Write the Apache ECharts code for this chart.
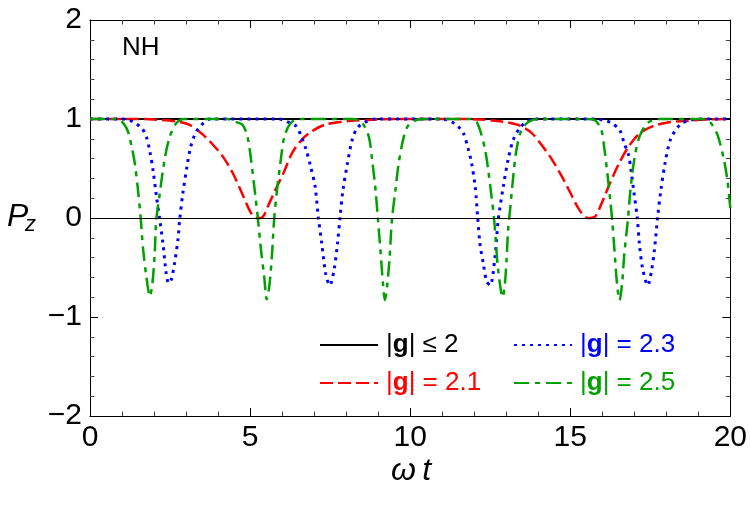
<!DOCTYPE html>
<html>
<head>
<meta charset="utf-8">
<script src="https://cdn.jsdelivr.net/npm/echarts@6/dist/echarts.min.js"></script>
<style>
  html, body { margin: 0; padding: 0; background: #fff; }
  #main { width: 750px; height: 515px; }
</style>
</head>
<body>
<div id="main"></div>
<script>
// 数据（从图上读出来的点）
var blackX = [0, 20];
var blackY = [1, 1];

var redX = [0, 1.5, 2.2, 2.8, 3.11, 3.5, 3.84, 4.15, 4.45, 4.72, 4.98, 5.1, 5.22, 5.39, 5.6, 5.8, 6.05, 6.32, 6.64, 6.95, 7.36, 8.09, 8.7, 9.5,
  10.4, 11.5, 12.2, 12.75, 13.37, 13.79, 14.1, 14.41, 14.72, 14.98, 15.29, 15.55, 15.76, 15.97, 16.2, 16.49, 16.8, 17.15, 17.6, 18.04, 18.56, 19.3, 20];
var redY = [1, 1, 0.99, 0.97, 0.94, 0.85, 0.74, 0.62, 0.46, 0.27, 0.08, 0.02, 0, 0.01, 0.15, 0.29, 0.46, 0.66, 0.8, 0.88, 0.945, 0.98, 0.99, 1,
  1, 1, 0.995, 0.98, 0.94, 0.86, 0.74, 0.6, 0.43, 0.27, 0.08, 0, 0.01, 0.14, 0.32, 0.53, 0.71, 0.85, 0.93, 0.965, 0.98, 0.995, 1];

var blueX = [0, 1.0, 1.2, 1.35, 1.61, 1.76, 1.87, 1.97, 2.07, 2.18, 2.28, 2.38, 2.46, 2.54, 2.64, 2.75, 2.8, 2.9, 3.03, 3.13, 3.27, 3.4, 3.55, 3.75,
  5.9, 6.17, 6.43, 6.58, 6.74, 6.89, 7.03, 7.13, 7.24, 7.36, 7.49, 7.62, 7.73, 7.81, 7.9, 8.04, 8.19, 8.35, 8.61, 8.9,
  11.0, 11.3, 11.51, 11.66, 11.82, 11.92, 12.03, 12.11, 12.18, 12.29, 12.39, 12.5, 12.65, 12.75, 12.91, 13.06, 13.22, 13.43, 13.63, 13.9,
  15.7, 16.02, 16.28, 16.54, 16.69, 16.82, 16.9, 16.98, 17.09, 17.16, 17.26, 17.42, 17.54, 17.63, 17.73, 17.83, 17.96, 18.14, 18.45, 18.77, 19.1, 20];
var blueY = [1, 1, 0.99, 0.97, 0.91, 0.82, 0.67, 0.48, 0.23, -0.02, -0.26, -0.56, -0.66, -0.62, -0.46, -0.21, -0.02, 0.25, 0.52, 0.7, 0.84, 0.91, 0.96, 1,
  1, 0.97, 0.93, 0.84, 0.7, 0.52, 0.32, 0.01, -0.26, -0.56, -0.68, -0.53, -0.26, 0.01, 0.28, 0.55, 0.79, 0.91, 0.97, 1,
  1, 0.97, 0.92, 0.86, 0.69, 0.55, 0.32, 0, -0.26, -0.47, -0.64, -0.68, -0.39, -0.02, 0.32, 0.59, 0.79, 0.91, 0.97, 1,
  1, 0.99, 0.96, 0.89, 0.75, 0.64, 0.48, 0.28, 0.01, -0.26, -0.51, -0.68, -0.53, -0.32, 0.01, 0.28, 0.55, 0.8, 0.95, 0.99, 1, 1];

var greenX = [0, 0.7, 0.93, 1.08, 1.19, 1.3, 1.4, 1.5, 1.58, 1.66, 1.76, 1.87, 1.95, 2.02, 2.07, 2.18, 2.33, 2.49, 2.7, 2.95,
  4.3, 4.56, 4.77, 4.92, 5.03, 5.13, 5.24, 5.34, 5.44, 5.52, 5.6, 5.68, 5.75, 5.84, 5.96, 6.07, 6.27, 6.53,
  8.2, 8.5, 8.71, 8.81, 8.92, 8.99, 9.07, 9.15, 9.21, 9.28, 9.36, 9.43, 9.54, 9.64, 9.8, 9.95, 10.2, 10.5,
  11.8, 12.03, 12.18, 12.34, 12.44, 12.54, 12.62, 12.68, 12.75, 12.89, 12.96, 13.01, 13.06, 13.12, 13.22, 13.32, 13.48, 13.69, 14.0,
  15.5, 15.76, 15.97, 16.07, 16.17, 16.26, 16.31, 16.38, 16.46, 16.54, 16.62, 16.69, 16.8, 16.88, 17.0, 17.16, 17.42, 17.73,
  19.2, 19.39, 19.6, 19.8, 19.91, 20];
var greenY = [1, 1, 0.99, 0.94, 0.87, 0.72, 0.55, 0.28, 0.01, -0.32, -0.59, -0.79, -0.66, -0.36, -0.02, 0.25, 0.59, 0.82, 0.96, 1,
  1, 0.97, 0.94, 0.82, 0.59, 0.32, 0.01, -0.32, -0.59, -0.82, -0.69, -0.39, -0.02, 0.28, 0.59, 0.82, 0.96, 1,
  1, 0.96, 0.82, 0.59, 0.28, 0, -0.32, -0.66, -0.83, -0.69, -0.39, -0.02, 0.28, 0.55, 0.82, 0.94, 0.99, 1,
  1, 0.99, 0.89, 0.69, 0.48, 0.22, 0, -0.26, -0.53, -0.8, -0.66, -0.42, -0.12, 0.08, 0.42, 0.69, 0.89, 0.97, 1,
  1, 0.99, 0.89, 0.69, 0.42, 0.15, -0.02, -0.32, -0.66, -0.83, -0.66, -0.36, -0.02, 0.28, 0.59, 0.82, 0.96, 1,
  1, 0.96, 0.84, 0.59, 0.38, 0.1];

var seriesNames = ["|g| ≤ 2", "|g| = 2.1", "|g| = 2.3", "|g| = 2.5"];
var xTicks = [0, 5, 10, 15, 20];
var yTicks = [-2, -1, 0, 1, 2];

var FONT = "Liberation Sans";

function zip(xs, ys) {
    return xs.map(function (x, i) { return [x, ys[i]]; });
}

// 图例里面的 g 要加粗
var richKey = {};
richKey[seriesNames[0]] = "k";
richKey[seriesNames[1]] = "r";
richKey[seriesNames[2]] = "b";
richKey[seriesNames[3]] = "g";

function legendFmt(name) {
    var k = richKey[name];
    var rest = name.slice(3);
    return "{" + k + "n||}{" + k + "|g}{" + k + "n||" + rest + "}";
}

function richStyles() {
    var cols = { k: "#000", r: "#ff0000", b: "#0000ff", g: "#00a000" };
    var rich = {};
    Object.keys(cols).forEach(function (k) {
        rich[k] = { color: cols[k], fontSize: 26, fontWeight: "bold", fontFamily: FONT };
        rich[k + "n"] = { color: cols[k], fontSize: 26, fontFamily: FONT };
    });
    return rich;
}

function axisCfg(type, pos, min, max, step, minorSplit, showLabel) {
    return {
        type: "value",
        position: pos,
        min: min,
        max: max,
        interval: step,
        axisLine: { show: true, onZero: false, lineStyle: { color: "#000", width: 1 } },
        axisTick: { show: true, inside: true, length: 8, lineStyle: { color: "#000", width: 1 } },
        minorTick: { show: true, splitNumber: minorSplit, length: 4.5, lineStyle: { color: "#444", width: 1 } },
        splitLine: { show: false },
        minorSplitLine: { show: false },
        axisLabel: {
            show: showLabel,
            color: "#000",
            fontSize: 30,
            fontFamily: FONT,
            margin: type === "x" ? 7 : 8,
            showMinLabel: true,
            showMaxLabel: true,
            formatter: function (v) {
                return v < 0 ? "\u2212" + Math.abs(v) : String(v);
            }
        }
    };
}

function legendCfg(left, names) {
    return {
        left: left, top: 327, orient: "vertical",
        itemWidth: 58, itemHeight: 14, itemGap: 12,
        data: names,
        formatter: legendFmt,
        // 去掉图例里的圆点，只留线
        itemStyle: { opacity: 0, borderWidth: 0 },
        textStyle: { fontSize: 26, lineHeight: 26, fontFamily: FONT, padding: [0, 0, 0, 3], rich: richStyles() }
    };
}

var myChart = echarts.init(document.getElementById("main"));

var option = {
    animation: false,
    backgroundColor: "#fff",
    grid: { left: 90, right: 19, top: 20, bottom: 99 },
    xAxis: [
        axisCfg("x", "bottom", xTicks[0], xTicks[xTicks.length - 1], xTicks[1] - xTicks[0], 5, true),
        axisCfg("x", "top", xTicks[0], xTicks[xTicks.length - 1], xTicks[1] - xTicks[0], 5, false)
    ],
    yAxis: [
        axisCfg("y", "left", yTicks[0], yTicks[yTicks.length - 1], yTicks[1] - yTicks[0], 5, true),
        axisCfg("y", "right", yTicks[0], yTicks[yTicks.length - 1], yTicks[1] - yTicks[0], 5, false)
    ],
    legend: [
        legendCfg(314, [seriesNames[0], seriesNames[1]]),
        legendCfg(508, [seriesNames[2], seriesNames[3]])
    ],
    graphic: [
        { type: "text", left: 122, top: 35, style: { text: "NH", fill: "#000", font: "26px '" + FONT + "'" } },
        { type: "text", left: 7, top: 201, style: { text: "P", fill: "#000", font: "italic 32px '" + FONT + "'" } },
        { type: "text", left: 25, top: 214, style: { text: "z", fill: "#000", font: "italic 22px '" + FONT + "'" } },
        { type: "text", left: 391, top: 455, style: { text: "\u03c9\u2009t", fill: "#000", font: "italic 32px '" + FONT + "'" } }
    ],
    series: [
        {
            name: seriesNames[0], type: "line", showSymbol: false, symbol: "none",
            data: zip(blackX, blackY),
            lineStyle: { color: "#000", width: 2.2, type: "solid" },
            itemStyle: { color: "#000" },
            markLine: {
                silent: true, symbol: "none", label: { show: false },
                lineStyle: { color: "#000", width: 1, type: "solid" },
                data: [{ yAxis: 0 }]
            }
        },
        {
            name: seriesNames[1], type: "line", showSymbol: false, symbol: "none", smooth: 0.3,
            data: zip(redX, redY),
            lineStyle: { color: "#ff0000", width: 2.5, type: [13, 5] },
            itemStyle: { color: "#ff0000" }
        },
        {
            name: seriesNames[2], type: "line", showSymbol: false, symbol: "none", smooth: 0.3,
            data: zip(blueX, blueY),
            lineStyle: { color: "#0000ff", width: 3, type: [3, 5] },
            itemStyle: { color: "#0000ff" }
        },
        {
            name: seriesNames[3], type: "line", showSymbol: false, symbol: "none", smooth: 0.3,
            data: zip(greenX, greenY),
            lineStyle: { color: "#00a000", width: 2.5, type: [15, 6, 5, 6] },
            itemStyle: { color: "#00a000" }
        }
    ]
};

myChart.setOption(option);

window.addEventListener("resize", function () {
    myChart.resize();
});
</script>
</body>
</html>
